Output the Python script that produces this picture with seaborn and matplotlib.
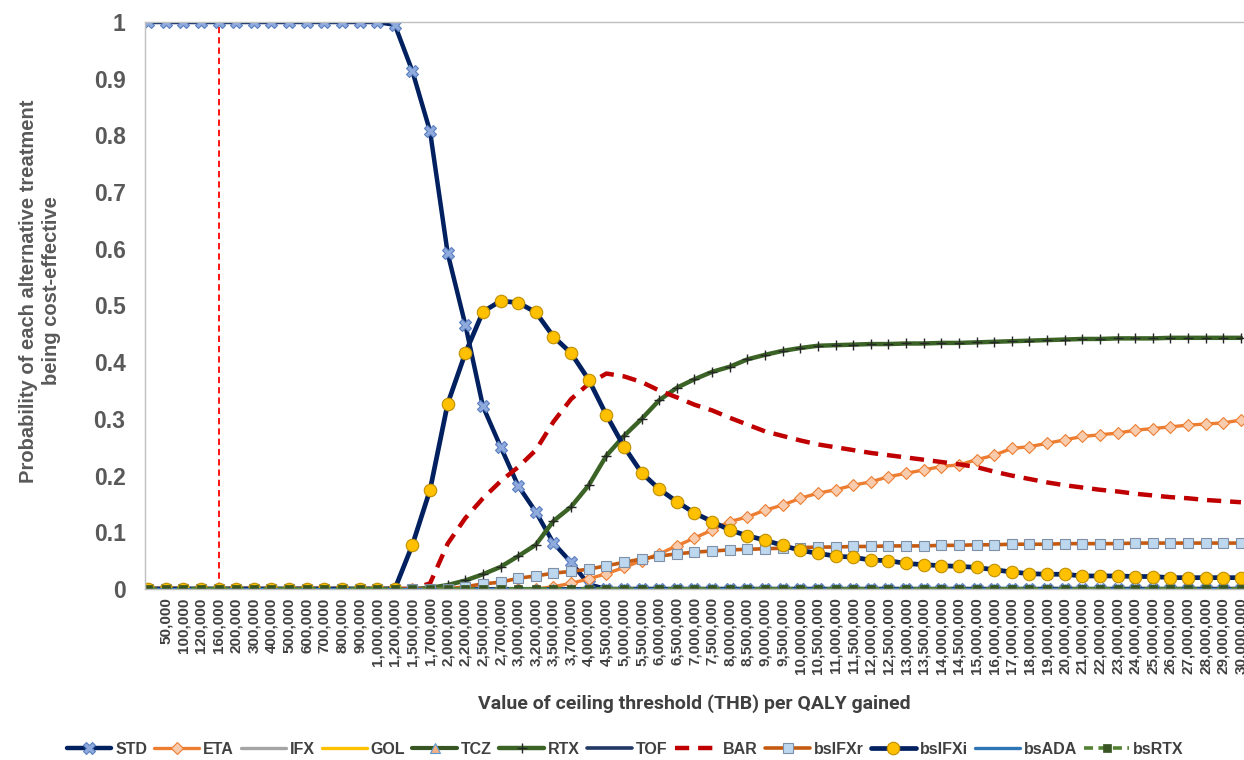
import numpy as np
import pandas as pd
import matplotlib
matplotlib.use("Agg")
import matplotlib.pyplot as plt
import seaborn as sns

# ---------------- data ----------------
categories = ['', '50,000', '100,000', '120,000', '160,000', '200,000', '300,000', '400,000',
              '500,000', '600,000', '700,000', '800,000', '900,000', '1,000,000', '1,200,000',
              '1,500,000', '1,700,000', '2,000,000', '2,200,000', '2,500,000', '2,700,000',
              '3,000,000', '3,200,000', '3,500,000', '3,700,000', '4,000,000', '4,500,000',
              '5,000,000', '5,500,000', '6,000,000', '6,500,000', '7,000,000', '7,500,000',
              '8,000,000', '8,500,000', '9,000,000', '9,500,000', '10,000,000', '10,500,000',
              '11,000,000', '11,500,000', '12,000,000', '12,500,000', '13,000,000', '13,500,000',
              '14,000,000', '14,500,000', '15,000,000', '16,000,000', '17,000,000', '18,000,000',
              '19,000,000', '20,000,000', '21,000,000', '22,000,000', '23,000,000', '24,000,000',
              '25,000,000', '26,000,000', '27,000,000', '28,000,000', '29,000,000', '30,000,000']

threshold_label = '160,000'

STD = [1.0] * 14 + [0.995, 0.913, 0.807, 0.592, 0.466, 0.322, 0.251, 0.182, 0.136, 0.081,
                    0.047, 0.008] + [0.0] * 37

ETA = [0.0] * 23 + [0.004, 0.010, 0.018, 0.027, 0.038, 0.050, 0.062, 0.076, 0.090,
                    0.104, 0.119, 0.127, 0.139, 0.148, 0.160, 0.169, 0.175, 0.183, 0.189,
                    0.198, 0.204, 0.210, 0.216, 0.219, 0.228, 0.236, 0.248, 0.251, 0.257,
                    0.263, 0.269, 0.272, 0.275, 0.280, 0.283, 0.286, 0.289, 0.291, 0.293, 0.298]

IFX = [0.0] * 63
GOL = [0.0] * 63
TCZ = [0.0] * 63

RTX = [0.0] * 16 + [0.002, 0.007, 0.015, 0.026, 0.039, 0.058, 0.078, 0.120, 0.145, 0.183,
                    0.235, 0.270, 0.300, 0.333, 0.355, 0.370,
                    0.383, 0.392, 0.405, 0.413, 0.420, 0.425, 0.429, 0.430, 0.431, 0.432,
                    0.432, 0.433, 0.433, 0.434, 0.434, 0.435, 0.436, 0.437, 0.438, 0.439,
                    0.440, 0.441, 0.441, 0.442, 0.442, 0.442, 0.443, 0.443, 0.443, 0.443, 0.443]

TOF = [0.0] * 63

BAR = [0.0] * 16 + [0.010, 0.080, 0.125, 0.160, 0.190, 0.215, 0.245, 0.295, 0.335, 0.362,
                    0.380, 0.375, 0.365, 0.350, 0.338, 0.325, 0.315, 0.302, 0.290, 0.278,
                    0.270, 0.262, 0.255, 0.250, 0.245, 0.240, 0.236, 0.232, 0.228, 0.224,
                    0.220, 0.215, 0.207, 0.200, 0.194, 0.188, 0.183, 0.179, 0.175, 0.172,
                    0.168, 0.165, 0.162, 0.160, 0.157, 0.155, 0.153]

bsIFXr = [0.0] * 18 + [0.004, 0.009, 0.012, 0.019, 0.023, 0.028, 0.031, 0.035, 0.041, 0.047,
                       0.053, 0.058, 0.062, 0.065, 0.067, 0.069, 0.070, 0.071, 0.072, 0.073,
                       0.074, 0.074, 0.075, 0.075, 0.076, 0.076, 0.076, 0.077, 0.077, 0.078,
                       0.078, 0.079, 0.079, 0.079, 0.080, 0.080, 0.080, 0.080, 0.081, 0.081,
                       0.081, 0.081, 0.081, 0.081, 0.081]

bsIFXi = [0.0] * 15 + [0.078, 0.175, 0.327, 0.416, 0.489, 0.508, 0.505, 0.488, 0.445, 0.416,
                       0.369, 0.307, 0.251, 0.205, 0.176, 0.154, 0.134, 0.119, 0.104, 0.094,
                       0.086, 0.077, 0.068, 0.063, 0.058, 0.056, 0.051, 0.050, 0.045, 0.043,
                       0.041, 0.040, 0.038, 0.034, 0.030, 0.027, 0.026, 0.026, 0.023, 0.023,
                       0.023, 0.022, 0.022, 0.020, 0.020, 0.020, 0.020, 0.020]

bsADA = [0.0] * 63
bsRTX = [0.0] * 63

yticks = [0, 0.1, 0.2, 0.3, 0.4, 0.5, 0.6, 0.7, 0.8, 0.9, 1]
ytick_labels = ['0', '0.1', '0.2', '0.3', '0.4', '0.5', '0.6', '0.7', '0.8', '0.9', '1']

# ---------------- styling ----------------
sns.set_theme(style="white")
plt.rcParams['font.family'] = ['Liberation Sans', 'DejaVu Sans']

W, H = 1244, 760
fig = plt.figure(figsize=(W / 100, H / 100), dpi=100)
ax = fig.add_axes([145 / W, 1 - 589 / H, 1099 / W, 567 / H])

pos = np.arange(len(categories))

series = [
    ('STD', STD, dict(color='#002060', lw=3.2, marker='X', ms=8, mfc='#8FAADC', mec='#5B7FC0', mew=0.8)),
    ('ETA', ETA, dict(color='#ED7D31', lw=2.4, marker='D', ms=6.5, mfc='#F8CBAD', mec='#ED7D31', mew=0.8)),
    ('IFX', IFX, dict(color='#A5A5A5', lw=2.4)),
    ('GOL', GOL, dict(color='#FFC000', lw=2.4)),
    ('TCZ', TCZ, dict(color='#375623', lw=3.0, marker='^', ms=7, mfc='#F4B183', mec='#5B9BD5', mew=0.8)),
    ('RTX', RTX, dict(color='#3B6326', lw=3.2, marker='+', ms=7, mec='#262626', mew=1.0)),
    ('TOF', TOF, dict(color='#203864', lw=2.6)),
    ('BAR', BAR, dict(color='#C00000', lw=3.2, linestyle=(0, (3.2, 2.0)))),
    ('bsIFXr', bsIFXr, dict(color='#C55A11', lw=2.6, marker='s', ms=7, mfc='#BDD7EE', mec='#7F8FA6', mew=0.8)),
    ('bsIFXi', bsIFXi, dict(color='#002060', lw=3.4, marker='o', ms=9, mfc='#FFC000', mec='#BF9000', mew=0.8)),
    ('bsADA', bsADA, dict(color='#2E75B6', lw=2.4)),
    ('bsRTX', bsRTX, dict(color='#548235', lw=2.6, linestyle=(0, (2.5, 1.5)), marker='s', ms=6, mfc='#375623', mec='#375623', mew=0.5)),
]

for name, vals, kw in series:
    df = pd.DataFrame({'pos': pos, 'prob': vals})
    sns.lineplot(data=df, x='pos', y='prob', ax=ax, label=name, legend=False,
                 estimator=None, sort=False, **kw)

# threshold line
thr = categories.index(threshold_label)
ax.axvline(thr, color='#FF0000', lw=1.3, linestyle=(0, (3.5, 2.2)), zorder=1)

ax.set_xlim(-0.17, 62.17)
ax.set_ylim(0, 1)

ax.set_yticks(yticks)
ax.set_yticklabels(ytick_labels, fontsize=16.5, fontweight='bold', color='#595959')
ax.set_xticks(pos)
ax.set_xticklabels(categories, rotation=90, fontsize=11, fontweight='bold', color='#404040',
                   va='top', ha='center')
ax.tick_params(axis='y', length=0, pad=14)
ax.tick_params(axis='x', length=0, pad=6)

for side in ['left', 'top', 'bottom']:
    ax.spines[side].set_color('#BFBFBF')
    ax.spines[side].set_linewidth(1.0)
ax.spines['right'].set_visible(False)
ax.grid(False)

ax.set_xlabel('Value of ceiling threshold (THB) per QALY gained', fontsize=14,
              fontweight='bold', color='#404040', family=['Roboto', 'DejaVu Sans'], va='center')
ax.xaxis.set_label_coords(0.5, -(704 - 589) / 567)
ax.set_ylabel('Probability of each alternative treatment\nbeing cost-effective', fontsize=14.5,
              fontweight='bold', color='#595959', va='center', ha='center', linespacing=1.25)
ax.yaxis.set_label_coords(-(145 - 40) / 1099, (589 - 291) / 567)

handles, labels = ax.get_legend_handles_labels()
leg = fig.legend(handles, labels, loc='center', bbox_to_anchor=(625 / W, 1 - 749 / H),
                 ncol=12, frameon=False, handlelength=2.8, handletextpad=0.25,
                 columnspacing=0.45, numpoints=1,
                 prop={'weight': 'bold', 'size': 11.5})
for t in leg.get_texts():
    t.set_color('#404040')

fig.savefig('out.png', dpi=100, facecolor='white')
